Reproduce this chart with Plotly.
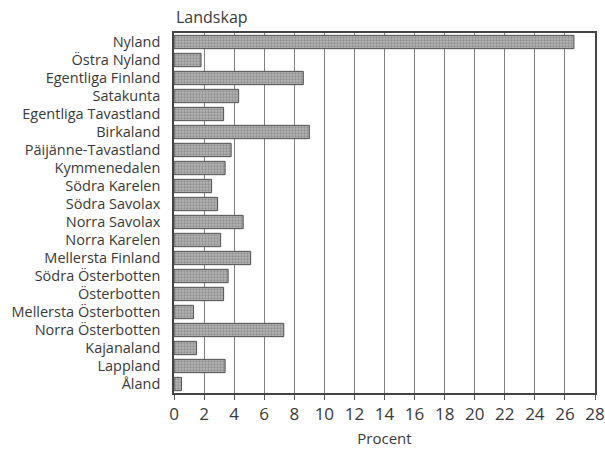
import plotly.graph_objects as go

# Landskap, top to bottom as in the original
regions = ["Nyland", "Östra Nyland", "Egentliga Finland", "Satakunta",
           "Egentliga Tavastland", "Birkaland", "Päijänne-Tavastland",
           "Kymmenedalen", "Södra Karelen", "Södra Savolax", "Norra Savolax",
           "Norra Karelen", "Mellersta Finland", "Södra Österbotten",
           "Österbotten", "Mellersta Österbotten", "Norra Österbotten",
           "Kajanaland", "Lappland", "Åland"]
percent = [26.6, 1.8, 8.6, 4.3, 3.3, 9.0, 3.8, 3.4, 2.5, 2.9, 4.6, 3.1,
           5.1, 3.6, 3.3, 1.3, 7.3, 1.5, 3.4, 0.5]
x_ticks = list(range(0, 29, 2))

font = "Open Sans, Noto Sans, sans-serif"
ink = "#3a3a3a"

fig = go.Figure(go.Bar(
    x=percent,
    y=regions,
    orientation="h",
    width=0.74,
    marker=dict(
        color="#b0b0b0",
        line=dict(color="#505050", width=1),
        pattern=dict(shape=".", fgcolor="#6a6a6a", bgcolor="#b4b4b4",
                     size=3, solidity=0.45),
    ),
))

fig.update_layout(
    width=605, height=450,
    margin=dict(l=174, r=10, t=33, b=57),
    paper_bgcolor="white", plot_bgcolor="white",
    font=dict(family=font, color=ink),
    showlegend=False,
    bargap=0.26,
    annotations=[dict(text="Landskap", xref="paper", yref="paper",
                      x=0, y=1, xanchor="left", yanchor="bottom", yshift=3,
                      showarrow=False, font=dict(size=16, color=ink))],
)

fig.update_xaxes(
    range=[0, 28], tickvals=x_ticks, ticks="outside", ticklen=5,
    tickcolor="#555", tickfont=dict(size=17), automargin=False,
    showgrid=True, gridcolor="#808080", gridwidth=1,
    showline=True, linecolor="#444", linewidth=1.5, mirror=True,
    zeroline=False,
    title=dict(text="Procent", font=dict(size=15), standoff=9),
)
fig.update_yaxes(
    categoryorder="array", categoryarray=regions, autorange="reversed",
    tickfont=dict(size=14.5), ticks="", ticklabelstandoff=9, automargin=False,
    showline=True, linecolor="#444", linewidth=1.5, mirror=True,
    showgrid=False,
)

# the page's default 8px body margin would shift the chart; drop it
fig.write_html("out.html", config={"displayModeBar": False},
               post_script="document.body.style.margin='0';")
